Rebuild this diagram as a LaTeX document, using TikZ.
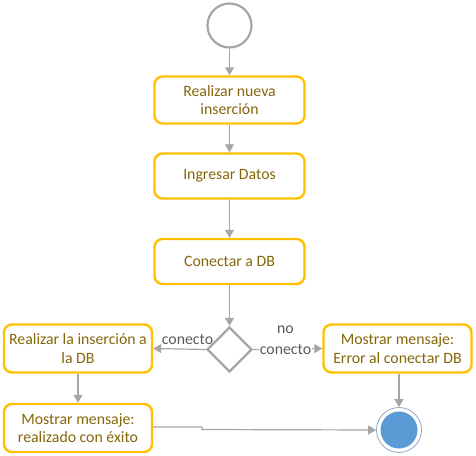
\documentclass[tikz,border=0pt]{standalone}
\usepackage{fontspec}
\setmainfont{Carlito}
\usetikzlibrary{arrows.meta,shapes.geometric}
\definecolor{boxborder}{HTML}{FFC000}
\definecolor{boxtext}{HTML}{86660A}
\definecolor{conn}{HTML}{A6A6A6}
\definecolor{lbl}{HTML}{595959}
\definecolor{endfill}{HTML}{5B9BD5}
\definecolor{endring}{HTML}{8FA6C8}
\begin{document}
\begin{tikzpicture}[x=1pt,y=-1pt,
  actbox/.style={draw=boxborder,line width=2.4pt,rounded corners=8pt,fill=white,
    text=boxtext,align=center,font=\fontsize{15.8}{18.5}\selectfont,inner sep=0pt},
  flow/.style={draw=conn,line width=1.2pt,-{Triangle[length=8pt,width=9pt]}},
  lab/.style={text=lbl,font=\fontsize{15.8}{21}\selectfont,inner sep=1pt,align=center}]
\useasboundingbox (0,0) rectangle (476,455);
\node[draw=conn,line width=2.2pt,circle,minimum size=44pt,inner sep=0pt] (start) at (229.5,25.5) {};
\node[actbox,minimum width=150pt,minimum height=47pt] (b1) at (229.5,100) {Realizar nueva\\inserción};
\node[actbox,minimum width=150pt,minimum height=45pt] (b2) at (229.5,176) {Ingresar Datos};
\node[actbox,minimum width=150pt,minimum height=45pt] (b3) at (229.5,261.5) {Conectar a DB};
\node[draw=conn,line width=2.2pt,diamond,minimum width=45pt,minimum height=45pt,inner sep=0pt] (dec) at (229.5,349.5) {};
\node[actbox,minimum width=148pt,minimum height=48pt] (left) at (78,348.5) {Realizar la inserción a\\la DB};
\node[actbox,minimum width=148pt,minimum height=48pt] (right) at (397.5,348.5) {Mostrar mensaje:\\Error al conectar DB};
\node[actbox,minimum width=148pt,minimum height=48pt] (ok) at (78,428) {Mostrar mensaje:\\realizado con éxito};
\node[draw=endring,line width=0.8pt,circle,minimum size=45pt,inner sep=0pt] (end) at (399,430) {};
\node[fill=endfill,circle,minimum size=37pt,inner sep=0pt] (endin) at (end.center) {};
\draw[flow] (start) -- (b1);
\draw[flow] (b1) -- (b2);
\draw[flow] (b2) -- (b3);
\draw[flow] (b3) -- (dec);
\draw[flow] (dec.west) -- (left.east);
\node[lab] (conlbl) at (187.5,340) {conecto};
\draw[flow] (dec.east) -- (right.west);
\node[lab,fill=white] (nolbl) at (285.5,340) {no\\conecto};
\draw[flow] (left) -- (ok);
\draw[flow] (right.south -| end.north) -- (end.north);
\coordinate (kink) at (202,427);
\draw[flow] (ok.east |- kink) -- (kink) -- ++(0,2.5) -- (end.west);
\end{tikzpicture}
\end{document}
